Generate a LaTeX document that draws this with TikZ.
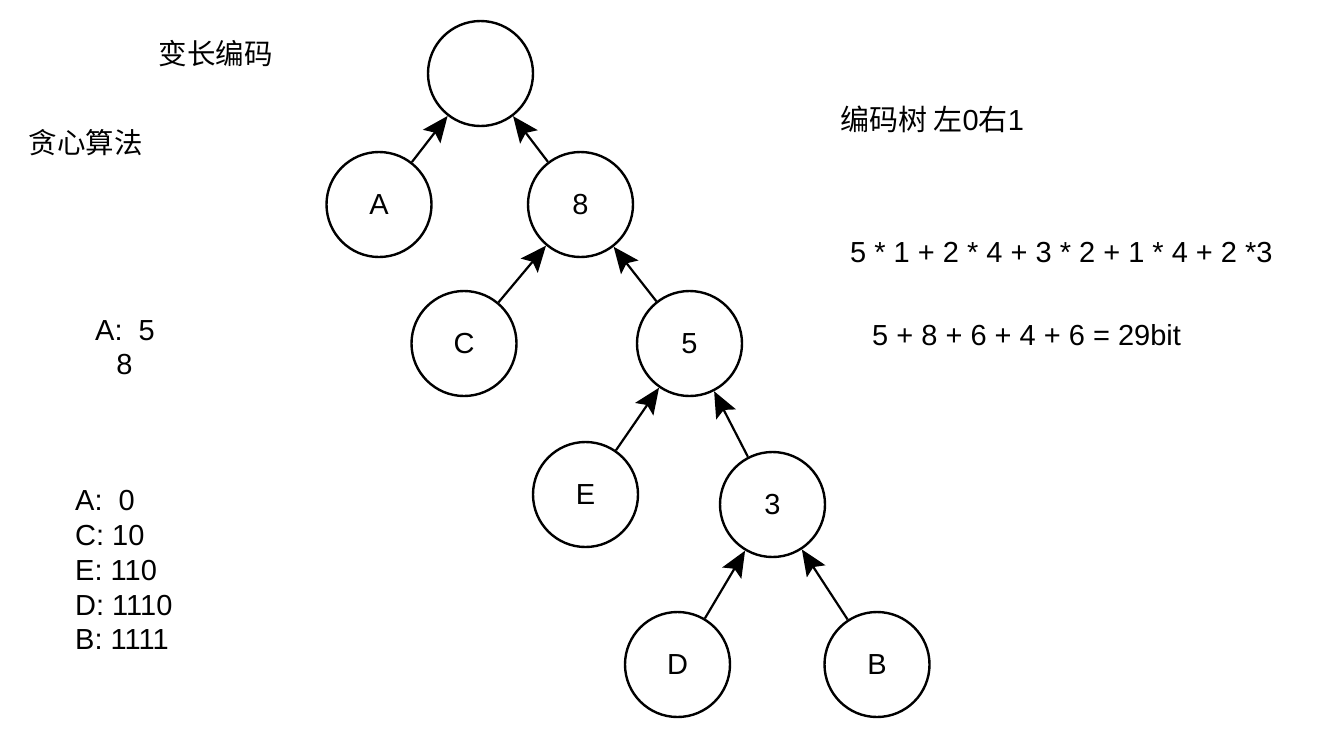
\documentclass[tikz,border=0pt]{standalone}
\usepackage{fontspec}
\setmainfont{Liberation Sans}
\newfontfamily\cjk{Noto Sans CJK SC}
\usetikzlibrary{arrows.meta}
\begin{document}
\begin{tikzpicture}[x=1pt,y=-1pt,
  treenode/.style={circle,draw=black,line width=2.4pt,minimum size=105pt,inner sep=0pt,font=\fontsize{29}{35}\selectfont},
  edge/.style={line width=2.2pt,-{Stealth[length=26pt,width=22pt,inset=5pt]}},
  txt/.style={inner sep=0pt,font=\fontsize{29}{35}\selectfont},
  cjktxt/.style={inner sep=0pt,font=\cjk\fontsize{28.5}{35}\selectfont}]
\useasboundingbox (0,0) rectangle (1324,734);
\fill[white] (0,0) rectangle (1324,734);
% tree
\node[treenode] (root) at (480.5,73.5) {};
\node[treenode] (A) at (379,204.5) {A};
\node[treenode] (n8) at (580.5,204.5) {8};
\node[treenode] (C) at (464,343.5) {C};
\node[treenode] (n5) at (689.5,343.5) {5};
\node[treenode] (E) at (585.5,494.5) {E};
\node[treenode] (n3) at (772.5,504.5) {3};
\node[treenode] (D) at (677.5,664.5) {D};
\node[treenode] (B) at (877,664.5) {B};
\draw[edge] (A) -- (root);
\draw[edge] (n8) -- (root);
\draw[edge] (C) -- (n8);
\draw[edge] (n5) -- (n8);
\draw[edge] (E) -- (n5);
\draw[edge] (n3) -- (n5);
\draw[edge] (D) -- (n3);
\draw[edge] (B) -- (n3);
% texts
\node[cjktxt] (t1) at (215.5,54) {变长编码};
\node[cjktxt] (t2) at (85.5,142.5) {贪心算法};
\node[txt,anchor=base west] (t3) at (840,130) {{\cjk 编码树 左}0{\cjk 右}1};
\node[txt,anchor=base west] (eq1) at (850,262) {5 * 1 + 2 * 4 + 3 * 2 + 1 * 4 + 2 *3};
\node[txt,anchor=base west] (eq2) at (872,345) {5 + 8 + 6 + 4 + 6 = 29bit};
\node[txt,anchor=base west] (a5) at (95,340) {A:\ \ 5};
\node[txt,anchor=base] (a8) at (124.5,374) {8};
\node[txt,anchor=base west] (l1) at (75,510) {A:\ \ 0};
\node[txt,anchor=base west] (l2) at (75,545) {C: 10};
\node[txt,anchor=base west] (l3) at (75,580) {E: 110};
\node[txt,anchor=base west] (l4) at (75,615) {D: 1110};
\node[txt,anchor=base west] (l5) at (75,649) {B: 1111};
\end{tikzpicture}
\end{document}
